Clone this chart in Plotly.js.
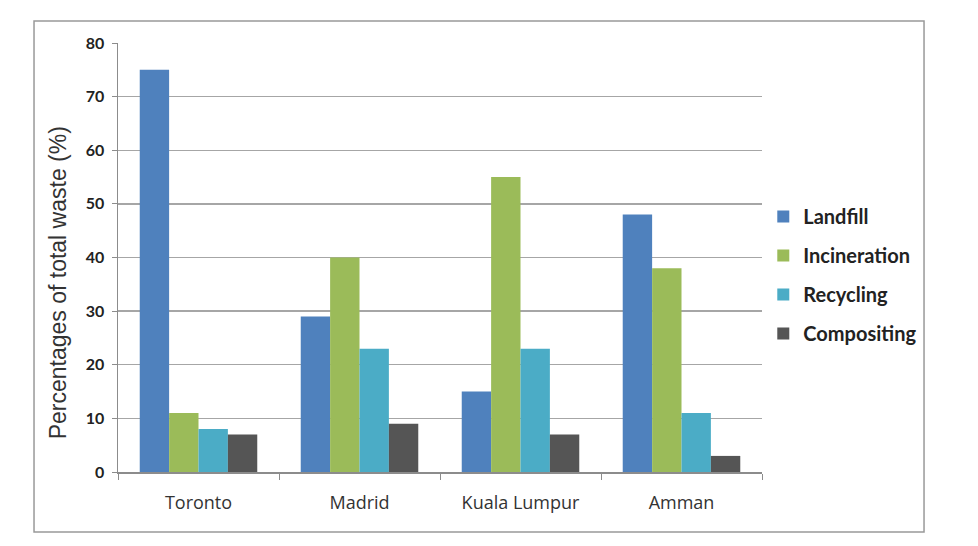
<!DOCTYPE html>
<html>
<head>
<meta charset="utf-8">
<script src="https://cdn.plot.ly/plotly-3.0.1.min.js"></script>
<style>html,body{margin:0;padding:0;background:#fff;}#chart{width:978px;height:546px;}</style>
</head>
<body>
<div id="chart"></div>
<script>
const cities = ["Toronto", "Madrid", "Kuala Lumpur", "Amman"];
const landfill = [75, 29, 15, 48];
const incineration = [11, 40, 55, 38];
const recycling = [8, 23, 23, 11];
const compositing = [7, 9, 7, 3];
const seriesNames = ["Landfill", "Incineration", "Recycling", "Compositing"];
const seriesColors = ["#4F81BD", "#9BBB59", "#4BACC6", "#555555"];
const yTicks = [0, 10, 20, 30, 40, 50, 60, 70, 80];
const yTitle = "Percentages of total waste (%)";

const seriesValues = [landfill, incineration, recycling, compositing];
const traces = seriesValues.map((vals, i) => ({
  type: "bar",
  name: seriesNames[i],
  x: cities,
  y: vals,
  legendgroup: "g" + i,
  marker: {color: seriesColors[i], line: {width: 0}},
  hoverinfo: "x+y+name"
}));

const layout = {
  width: 978,
  height: 546,
  margin: {l: 118, r: 216, t: 43, b: 74},
  paper_bgcolor: "#ffffff",
  plot_bgcolor: "#ffffff",
  barmode: "group",
  bargap: 0.27,
  bargroupgap: 0,
  showlegend: true,
  legend: {
    x: 1.002, xanchor: "left",
    y: 0.459, yanchor: "middle",
    traceorder: "grouped",
    tracegroupgap: 10,
    font: {family: "Lato, 'Open Sans', sans-serif", size: 20, color: "#222222", weight: "bold"},
    itemwidth: 30,
    bgcolor: "rgba(0,0,0,0)"
  },
  xaxis: {
    type: "category",
    showline: true,
    linecolor: "#8c8c8c",
    linewidth: 1.5,
    ticks: "outside",
    tickson: "boundaries",
    ticklen: 6,
    tickcolor: "#8c8c8c",
    ticklabelstandoff: 14,
    tickfont: {family: "'Open Sans', sans-serif", size: 18, color: "#333333"},
    showgrid: false,
    fixedrange: true
  },
  yaxis: {
    range: [0, 80],
    tickvals: yTicks,
    ticktext: yTicks.map(String),
    showline: true,
    linecolor: "#8c8c8c",
    linewidth: 1.5,
    ticks: "outside",
    ticklen: 5,
    tickcolor: "#8c8c8c",
    ticklabelstandoff: 4,
    showgrid: true,
    gridcolor: "#a6a6a6",
    gridwidth: 1.3,
    zeroline: false,
    tickfont: {family: "Lato, 'Open Sans', sans-serif", size: 16, color: "#222222", weight: "bold"},
    fixedrange: true
  },
  annotations: [{
    text: yTitle,
    xref: "paper", yref: "paper",
    x: -0.093, y: 0.44,
    xanchor: "center", yanchor: "middle",
    textangle: -90,
    showarrow: false,
    font: {family: "'Liberation Sans', Arial, sans-serif", size: 23, color: "#333333"}
  }],
  shapes: [{
    type: "rect", xref: "paper", yref: "paper",
    x0: -0.1304, x1: 1.2516, y0: -0.14, y1: 1.0513,
    line: {color: "#999999", width: 1.5},
    fillcolor: "rgba(0,0,0,0)",
    layer: "below"
  }]
};

Plotly.newPlot("chart", traces, layout, {displayModeBar: false, staticPlot: true});
</script>
</body>
</html>
